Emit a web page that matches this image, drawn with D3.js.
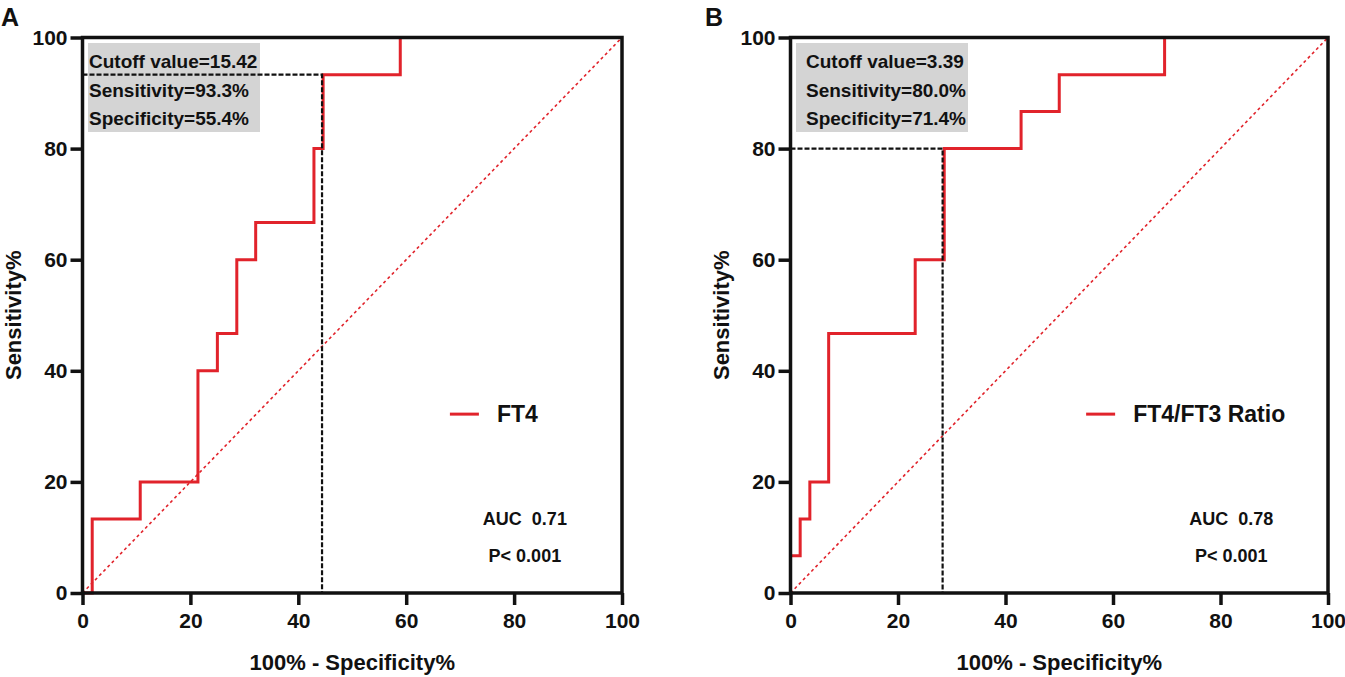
<!DOCTYPE html>
<html lang="en">
  <head>
    <meta charset="utf-8">
    <title>ROC curves</title>
    <script src="https://cdn.jsdelivr.net/npm/d3@7"></script>
    <style>
      body { margin: 0; background: #fff; }
      svg text { font-family: "Liberation Sans", Arial, sans-serif; font-weight: bold; fill: #111; white-space: pre; }
    </style>
  </head>
  <body>
    <svg id="svg" width="1345" height="677"></svg>

    <script type="text/javascript">

        // -- data: ROC corner points (100% - specificity, sensitivity)
        var ticks = [0, 20, 40, 60, 80, 100];

        var fprA = [0, 1.8, 10.7, 21.4, 25.0, 28.6, 32.1, 42.9, 44.6, 58.9, 100];
        var tprA = [0, 13.3, 20.0, 40.0, 46.7, 60.0, 66.7, 80.0, 93.3, 100, 100];

        var fprB = [0, 0, 1.8, 3.6, 7.1, 23.2, 28.6, 42.9, 50.0, 69.6, 100];
        var tprB = [0, 6.7, 13.3, 20.0, 46.7, 60.0, 80.0, 86.7, 93.3, 100, 100];

        var cutA = [44.4, 93.3];
        var cutB = [28.3, 80.0];

        var labelA = "FT4";
        var labelB = "FT4/FT3 Ratio";
        var notesA = ["Cutoff value=15.42", "Sensitivity=93.3%", "Specificity=55.4%"];
        var notesB = ["Cutoff value=3.39", "Sensitivity=80.0%", "Specificity=71.4%"];
        var statsA = ["AUC  0.71", "P< 0.001"];
        var statsB = ["AUC  0.78", "P< 0.001"];

        var RED = "#e1232b";

        var svg = d3.select("svg#svg");

        function draw_panel(opt) {
            // - one ROC panel: frame, axes, diagonal, curve, cutoff lines, texts
            var x = d3.scaleLinear().domain([0, 100]).range([opt.left, opt.right]);
            var y = d3.scaleLinear().domain([0, 100]).range([593, 37.5]);
            var g = svg.append("g");

            // panel letter
            g.append("text").attr("x", opt.letterX).attr("y", 26)
                .style("font-size", "25px").text(opt.letter);

            // grey annotation box
            g.append("rect")
                .attr("x", opt.left + opt.boxPad).attr("y", 43)
                .attr("width", 172).attr("height", 89)
                .attr("fill", "#d4d4d4");
            opt.notes.forEach(function(t, i) {
                g.append("text")
                    .attr("x", opt.left + opt.textPad).attr("y", 68 + i * 28.5)
                    .style("font-size", "19px").text(t);
            });

            // diagonal reference
            g.append("line")
                .attr("x1", x(0)).attr("y1", y(0)).attr("x2", x(100)).attr("y2", y(100))
                .attr("stroke", RED).attr("stroke-width", 1.6)
                .attr("stroke-dasharray", "3,3");

            // the ROC curve
            var pts = opt.fpr.map(function(d, i) { return [d, opt.tpr[i]]; });
            var line = d3.line()
                .x(function(d) { return x(d[0]); })
                .y(function(d) { return y(d[1]); })
                .curve(d3.curveStepAfter);
            g.append("path").datum(pts)
                .attr("d", line)
                .attr("fill", "none").attr("stroke", RED).attr("stroke-width", 3);

            // cutoff dashed lines
            g.append("path")
                .attr("d", "M" + x(0) + "," + y(opt.cut[1]) + "H" + x(opt.cut[0]) + "V" + y(0))
                .attr("fill", "none").attr("stroke", "#111").attr("stroke-width", 2.2)
                .attr("stroke-dasharray", "5,2");

            // axes
            var ax = g.append("g").attr("transform", "translate(0," + y(0) + ")")
                .call(d3.axisBottom(x).tickValues(ticks).tickSize(12).tickSizeOuter(0).tickPadding(8));
            var ay = g.append("g").attr("transform", "translate(" + x(0) + ",0)")
                .call(d3.axisLeft(y).tickValues(ticks).tickSize(12).tickSizeOuter(0).tickPadding(3));
            [ax, ay].forEach(function(a) {
                a.selectAll("path").remove();
                a.selectAll("line").attr("stroke", "#111").attr("stroke-width", 3.5);
                a.selectAll("text").style("font-size", "21px").attr("fill", "#111");
            });

            // frame
            g.append("rect")
                .attr("x", x(0)).attr("y", y(100))
                .attr("width", x(100) - x(0)).attr("height", y(0) - y(100))
                .attr("fill", "none").attr("stroke", "#111").attr("stroke-width", 3.5);

            // legend
            g.append("line")
                .attr("x1", x(opt.legX)).attr("x2", x(opt.legX) + 29)
                .attr("y1", y(32.2)).attr("y2", y(32.2))
                .attr("stroke", RED).attr("stroke-width", 3);
            g.append("text")
                .attr("x", x(opt.legX) + 47).attr("y", y(32.2) + 8)
                .style("font-size", "23px").text(opt.label);

            // AUC / P
            opt.stats.forEach(function(t, i) {
                g.append("text")
                    .attr("x", x(82)).attr("y", y(13.5) + 6.5 + i * 37)
                    .attr("text-anchor", "middle")
                    .style("font-size", "18px").text(t);
            });

            // axis titles
            g.append("text")
                .attr("x", (x(0) + x(100)) / 2).attr("y", 670)
                .attr("text-anchor", "middle")
                .style("font-size", "22px").text("100% - Specificity%");
            g.append("text")
                .attr("transform", "translate(" + (x(0) - 62) + "," + ((y(0) + y(100)) / 2) + ") rotate(-90)")
                .attr("text-anchor", "middle")
                .style("font-size", "22px").text("Sensitivity%");
        }

        draw_panel({ letter: "A", letterX: 1, left: 82.5, right: 622, boxPad: 5.5, textPad: 6.5,
                     fpr: fprA, tpr: tprA, cut: cutA, notes: notesA, stats: statsA,
                     label: labelA, legX: 68.1 });
        draw_panel({ letter: "B", letterX: 705, left: 790.5, right: 1328, boxPad: 5.5, textPad: 15.5,
                     fpr: fprB, tpr: tprB, cut: cutB, notes: notesB, stats: statsB,
                     label: labelB, legX: 55.0 });
    </script>
  </body>
</html>
